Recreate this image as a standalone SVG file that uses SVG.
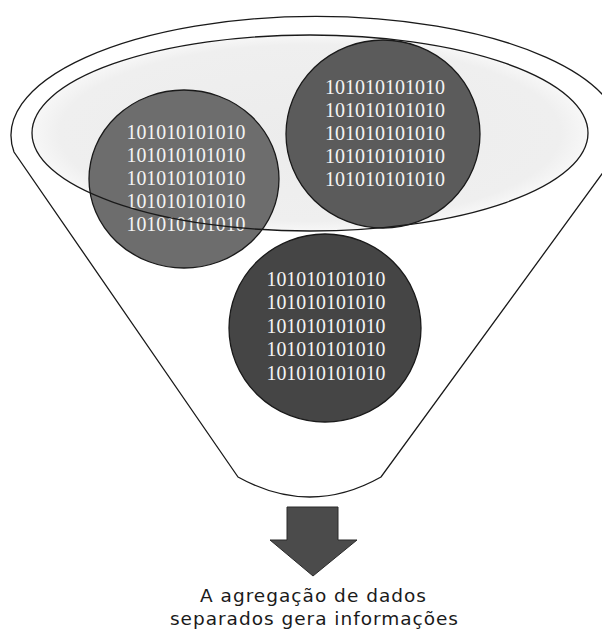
<svg xmlns="http://www.w3.org/2000/svg" width="602" height="631" viewBox="0 0 602 631">
<style>
.ol{fill:none;stroke:#1a1a1a;stroke-width:1.3}
.disc{stroke:#1a1a1a;stroke-width:1.3}
.bin{font-family:"Liberation Serif","DejaVu Serif",serif;font-size:21px;fill:#f4f4f4;text-anchor:middle}
.cap{font-family:"DejaVu Sans","Liberation Sans",sans-serif;font-size:18.5px;fill:#1a1a1a;text-anchor:middle}
</style>
<defs>
<radialGradient id="bowl" cx="0.5" cy="0.5" r="0.5">
<stop offset="0" stop-color="#ececec"/>
<stop offset="0.9" stop-color="#efefef"/>
<stop offset="1" stop-color="#f7f7f7"/>
</radialGradient>
</defs>
<rect width="602" height="631" fill="#ffffff"/>
<g id="funnel">
<path d="M 238,477 L 14,152 A 305 119 0 1 1 618,152 L 381,477 Q 310,517 238,477 Z" fill="#ffffff" stroke="#1a1a1a" stroke-width="1.3"/>
<ellipse cx="310" cy="133" rx="278" ry="98" fill="url(#bowl)"/>
</g>
<g id="data-right">
<ellipse class="disc" cx="383" cy="134" rx="97" ry="94" fill="#5b5b5b"/>
<text class="bin" x="385" y="94" textLength="120" lengthAdjust="spacingAndGlyphs">101010101010</text>
<text class="bin" x="385" y="117" textLength="120" lengthAdjust="spacingAndGlyphs">101010101010</text>
<text class="bin" x="385" y="140" textLength="120" lengthAdjust="spacingAndGlyphs">101010101010</text>
<text class="bin" x="385" y="163" textLength="120" lengthAdjust="spacingAndGlyphs">101010101010</text>
<text class="bin" x="385" y="186" textLength="120" lengthAdjust="spacingAndGlyphs">101010101010</text>
</g>
<g id="data-left">
<ellipse class="disc" cx="184" cy="179" rx="95" ry="89" fill="#6d6d6d"/>
<text class="bin" x="186" y="138.5" textLength="119" lengthAdjust="spacingAndGlyphs">101010101010</text>
<text class="bin" x="186" y="161.5" textLength="119" lengthAdjust="spacingAndGlyphs">101010101010</text>
<text class="bin" x="186" y="184.5" textLength="119" lengthAdjust="spacingAndGlyphs">101010101010</text>
<text class="bin" x="186" y="207.5" textLength="119" lengthAdjust="spacingAndGlyphs">101010101010</text>
<text class="bin" x="186" y="230.5" textLength="119" lengthAdjust="spacingAndGlyphs">101010101010</text>
</g>
<g id="funnel-rim">
<ellipse class="ol" cx="310" cy="133" rx="278" ry="98"/>
</g>
<g id="data-bottom">
<ellipse class="disc" cx="325" cy="328" rx="96" ry="94" fill="#454545"/>
<text class="bin" x="326" y="285.5" textLength="119" lengthAdjust="spacingAndGlyphs">101010101010</text>
<text class="bin" x="326" y="309" textLength="119" lengthAdjust="spacingAndGlyphs">101010101010</text>
<text class="bin" x="326" y="332.5" textLength="119" lengthAdjust="spacingAndGlyphs">101010101010</text>
<text class="bin" x="326" y="356" textLength="119" lengthAdjust="spacingAndGlyphs">101010101010</text>
<text class="bin" x="326" y="379.5" textLength="119" lengthAdjust="spacingAndGlyphs">101010101010</text>
</g>
<g id="connectors">
<path d="M 287,507 L 338,507 L 338,540 L 357,540 L 313,576 L 270,540 L 287,540 Z" fill="#4b4b4b" stroke="#2a2a2a" stroke-width="1"/>
</g>
<g id="caption">
<text class="cap" x="313" y="602" textLength="226" lengthAdjust="spacing">A agregação de dados</text>
<text class="cap" x="314" y="625" textLength="288" lengthAdjust="spacing">separados gera informações</text>
</g>
</svg>
